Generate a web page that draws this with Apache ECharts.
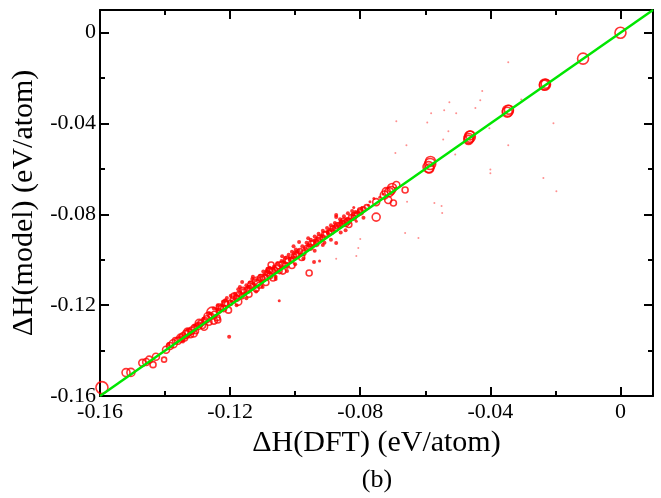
<!DOCTYPE html>
<html>
<head>
<meta charset="utf-8">
<script src="https://cdn.jsdelivr.net/npm/echarts@6/dist/echarts.min.js"></script>
<style>html,body{margin:0;padding:0;background:#fff}#c{width:661px;height:498px}</style>
</head>
<body>
<div id="c"></div>
<script>
// ---- data (x = ΔH(DFT), y = ΔH(model), s = marker diameter) ----
const xTickLabels = [-0.16, -0.12, -0.08, -0.04, 0];
const yTickLabels = [-0.16, -0.12, -0.08, -0.04, 0];
const parityLine = [[-0.16, -0.16], [0.01, 0.01]];

const openCircles = [
  [0,0,11],[-0.0115,-0.0114,11],
  [-0.0232,-0.0228,11],[-0.0234,-0.0231,10],[-0.0230,-0.0225,9],
  [-0.0346,-0.0344,11],[-0.0348,-0.0350,10],[-0.0343,-0.0339,9],
  [-0.0463,-0.0458,11],[-0.0466,-0.0466,10],[-0.0462,-0.0452,9],[-0.0467,-0.0472,9],
  [-0.0585,-0.0578,11],[-0.0590,-0.0592,11],[-0.0584,-0.0567,10],[-0.0588,-0.0598,9],
  [-0.0751,-0.0746,7],[-0.0751,-0.0812,8],[-0.0726,-0.0715,8],[-0.0714,-0.0737,7],
  [-0.0711,-0.0702,9],[-0.0702,-0.0684,9],[-0.0698,-0.0750,6],[-0.0689,-0.0671,7],
  [-0.0662,-0.0693,6],[-0.0720,-0.0700,8],[-0.0705,-0.0695,8],
  [-0.1594,-0.1563,12],[-0.1520,-0.1497,8],[-0.1505,-0.1496,8],[-0.1470,-0.1454,7],
  [-0.1458,-0.1450,7],[-0.1449,-0.1440,7],[-0.1437,-0.1462,6],[-0.1428,-0.1427,7],
  [-0.1403,-0.1440,5],[-0.1397,-0.1396,7],[-0.1385,-0.1380,7],[-0.1375,-0.1370,8],
  [-0.1368,-0.1356,6],[-0.1360,-0.1357,7],[-0.1352,-0.1345,8],[-0.1345,-0.1337,7],
  [-0.1340,-0.1345,6],[-0.1335,-0.1328,8],[-0.1328,-0.1320,7],[-0.1322,-0.1330,6],
  [-0.1318,-0.1312,7],[-0.1310,-0.1300,6],[-0.1305,-0.1315,5],[-0.1298,-0.1292,7],
  [-0.1290,-0.1280,6],[-0.1285,-0.1290,6],[-0.1278,-0.1268,6],[-0.1272,-0.1262,7],
  [-0.1265,-0.1275,6],[-0.1258,-0.1250,6],[-0.1255,-0.1233,11],[-0.1248,-0.1240,6],
  [-0.1240,-0.1255,6],[-0.1235,-0.1225,5],[-0.1228,-0.1212,5],[-0.1220,-0.1215,6],
  [-0.1210,-0.1195,5],[-0.1200,-0.1190,5],[-0.1192,-0.1175,5],[-0.1180,-0.1170,6],
  [-0.1172,-0.1150,5],[-0.1165,-0.1162,5],[-0.1158,-0.1140,5],[-0.1148,-0.1135,6],
  [-0.1140,-0.1125,5],[-0.1130,-0.1118,6],[-0.1117,-0.1098,10],[-0.1110,-0.1112,6],
  [-0.1100,-0.1085,5],[-0.1092,-0.1078,6],[-0.1085,-0.1060,5],[-0.1078,-0.1070,6],
  [-0.1074,-0.1023,6],[-0.1070,-0.1050,6],[-0.1062,-0.1045,5],[-0.1055,-0.1038,6],
  [-0.1048,-0.1050,5],[-0.1040,-0.1020,6],[-0.1030,-0.1022,5],[-0.1022,-0.1005,6],
  [-0.1012,-0.1000,5],[-0.1004,-0.0985,5],[-0.0995,-0.0980,6],[-0.0985,-0.0962,5],
  [-0.0975,-0.0970,5],[-0.0965,-0.0948,5],[-0.0955,-0.0945,6],[-0.0945,-0.0925,5],
  [-0.0935,-0.0930,5],[-0.0925,-0.0905,6],[-0.0915,-0.0902,5],[-0.0905,-0.0888,6],
  [-0.0895,-0.0880,5],[-0.0885,-0.0862,5],[-0.0875,-0.0860,6],[-0.0865,-0.0848,5],
  [-0.0855,-0.0840,6],[-0.0845,-0.0838,7],[-0.0838,-0.0830,6],[-0.0828,-0.0812,5],
  [-0.0820,-0.0815,5],[-0.0810,-0.0800,5],[-0.0800,-0.0782,5],[-0.0790,-0.0778,5],
  [-0.0780,-0.0768,5],
  [-0.1330,-0.1318,8],[-0.1312,-0.1325,7],[-0.1295,-0.1280,8],[-0.1280,-0.1295,7],
  [-0.1268,-0.1250,8],[-0.1250,-0.1268,7],[-0.1238,-0.1265,6],[-0.1232,-0.1210,7],
  [-0.1215,-0.1190,6],[-0.1205,-0.1222,6],[-0.1188,-0.1160,6],[-0.1175,-0.1185,7],
  [-0.1160,-0.1135,6],[-0.1142,-0.1152,6],[-0.1135,-0.1110,7],[-0.1120,-0.1128,6],
  [-0.1105,-0.1080,7],[-0.1090,-0.1100,6],[-0.1080,-0.1048,6],[-0.1068,-0.1080,6],
  [-0.1050,-0.1025,7],[-0.1038,-0.1050,6],[-0.1025,-0.1000,7],[-0.1010,-0.1025,6],
  [-0.0998,-0.0975,6],[-0.0980,-0.0990,6],[-0.0957,-0.1058,6],[-0.0950,-0.0930,6],
  [-0.0930,-0.0915,6],[-0.0910,-0.0890,6],[-0.0890,-0.0875,6],[-0.0870,-0.0850,6],
  [-0.0850,-0.0830,6],[-0.0835,-0.0845,6],[-0.0818,-0.0805,6],[-0.0800,-0.0790,6]
];

const filledDots = [
  [-0.1390,-0.1372,4],[-0.1330,-0.1310,4],[-0.1300,-0.1285,4],[-0.1282,-0.1260,4],
  [-0.1260,-0.1238,4],[-0.1240,-0.1218,4],[-0.1225,-0.1200,4],[-0.1203,-0.1339,4],
  [-0.1195,-0.1185,4],[-0.1185,-0.1160,4],[-0.1170,-0.1145,4],[-0.1155,-0.1150,4],
  [-0.1145,-0.1120,4],[-0.1128,-0.1105,4],[-0.1115,-0.1088,4],[-0.1105,-0.1095,4],
  [-0.1095,-0.1065,4],[-0.1080,-0.1055,4],[-0.1068,-0.1040,4],[-0.1060,-0.1075,4],
  [-0.1049,-0.1181,3],[-0.1045,-0.1028,4],[-0.1035,-0.1010,4],[-0.1025,-0.1032,4],
  [-0.1018,-0.0995,4],[-0.1008,-0.0990,4],[-0.0998,-0.0970,4],[-0.0990,-0.0960,4],
  [-0.0980,-0.0978,4],[-0.0970,-0.0950,4],[-0.0960,-0.0935,4],[-0.0950,-0.0940,4],
  [-0.0940,-0.0915,4],[-0.0930,-0.0910,4],[-0.0920,-0.0895,4],[-0.0910,-0.0925,4],
  [-0.0900,-0.0878,4],[-0.0890,-0.0870,4],[-0.0880,-0.0855,4],[-0.0874,-0.0812,4],
  [-0.0868,-0.0850,4],[-0.0860,-0.0832,4],[-0.0850,-0.0835,4],[-0.0840,-0.0820,4],
  [-0.0830,-0.0825,4],[-0.0822,-0.0800,4],[-0.0812,-0.0830,3],[-0.0805,-0.0790,4],
  [-0.0795,-0.0770,3],[-0.0775,-0.0760,3],[-0.0740,-0.0725,3],[-0.0730,-0.0710,3],
  [-0.0690,-0.0685,3],
  [-0.1250,-0.1215,4],[-0.1238,-0.1200,4],[-0.1222,-0.1185,4],[-0.1210,-0.1168,4],
  [-0.1198,-0.1158,4],[-0.1185,-0.1150,4],[-0.1175,-0.1130,4],[-0.1163,-0.1098,4],
  [-0.1150,-0.1112,4],[-0.1140,-0.1100,4],[-0.1132,-0.1085,4],[-0.1122,-0.1090,4],
  [-0.1108,-0.1070,4],[-0.1098,-0.1052,4],[-0.1088,-0.1050,4],[-0.1078,-0.1035,4],
  [-0.1065,-0.1030,4],[-0.1055,-0.1015,4],[-0.1042,-0.1005,4],[-0.1030,-0.0992,4],
  [-0.1020,-0.0978,4],[-0.1010,-0.0965,4],[-0.0998,-0.0955,4],[-0.0988,-0.0922,4],
  [-0.0978,-0.0940,4],[-0.0965,-0.0925,4],[-0.0952,-0.0912,4],[-0.0940,-0.0898,4],
  [-0.0928,-0.0885,4],[-0.0915,-0.0872,4],[-0.0902,-0.0860,4],[-0.0890,-0.0848,4],
  [-0.0878,-0.0838,4],[-0.0862,-0.0822,4],[-0.0850,-0.0808,4],[-0.0838,-0.0795,4],
  [-0.0825,-0.0785,4],[-0.0815,-0.0790,4],
  [-0.1180,-0.1200,4],[-0.1120,-0.1140,4],[-0.1060,-0.1085,4],[-0.1000,-0.1020,4],
  [-0.0940,-0.0960,4],[-0.0890,-0.0912,4],[-0.0845,-0.0870,4],[-0.0790,-0.0815,4],
  [-0.0874,-0.0803,4],[-0.0874,-0.0926,4],[-0.0942,-0.1010,4],[-0.0925,-0.1005,3],
  [-0.0960,-0.0905,4],[-0.1005,-0.0940,4],[-0.1040,-0.0985,4],[-0.1085,-0.1040,4],
  [-0.1130,-0.1075,4],[-0.1170,-0.1120,4],[-0.1215,-0.1178,4],[-0.1265,-0.1235,4],
  [-0.1310,-0.1290,4],[-0.1355,-0.1340,4],[-0.1345,-0.1360,4],[-0.1150,-0.1170,4],
  [-0.1100,-0.1120,4],[-0.1025,-0.1050,4],[-0.0975,-0.0995,4],[-0.0915,-0.0935,4],
  [-0.0860,-0.0880,4],[-0.0820,-0.0770,3],[-0.0770,-0.0745,3],[-0.0758,-0.0730,3]
];

const faintDots = [
  [-0.0345,-0.0130],[-0.0425,-0.0257],[-0.0431,-0.0298],[-0.0526,-0.0306],
  [-0.0446,-0.0332],[-0.0542,-0.0342],[-0.0505,-0.0355],[-0.0582,-0.0355],
  [-0.0594,-0.0395],[-0.0689,-0.0390],[-0.0529,-0.0434],[-0.0545,-0.0470],
  [-0.0658,-0.0496],[-0.0508,-0.0536],[-0.0345,-0.0496],[-0.0206,-0.0399],
  [-0.0305,-0.0294],[-0.0403,-0.0421],[-0.0400,-0.0602],[-0.0400,-0.0619],
  [-0.0237,-0.0640],[-0.0197,-0.0698],[-0.0692,-0.0530],[-0.0572,-0.0750],
  [-0.0550,-0.0763],[-0.0548,-0.0794],[-0.0662,-0.0882],[-0.0621,-0.0904],
  [-0.0656,-0.0745],[-0.0800,-0.0908],[-0.0806,-0.0948],[-0.0874,-0.0996],
  [-0.0812,-0.0983]
];

// ---- chart ----
const FONT = '"Liberation Serif", "DejaVu Serif", serif';
const chart = echarts.init(document.getElementById('c'), null, {renderer: 'canvas'});
const fmt = (list) => (v) => {
  const hit = list.find(t => Math.abs(t - v) < 1e-9);
  if (hit === undefined) return '';
  return hit === 0 ? '0' : hit.toFixed(2);
};
function axisPair(dim, pos, showLabel) {
  const isX = dim === 'x';
  const main = {
    type: 'value', position: pos, min: -0.16, max: 0.01, interval: 0.04,
    axisLine: {show: true, onZero: false, lineStyle: {color: '#000', width: 2}},
    axisTick: {show: true, inside: true, length: 9, lineStyle: {color: '#000', width: 2}},
    splitLine: {show: false},
    axisLabel: {show: showLabel, showMaxLabel: false, color: '#000', fontFamily: FONT, fontSize: 22,
      margin: isX ? 5 : 4, formatter: fmt(isX ? xTickLabels : yTickLabels),
      align: isX ? 'center' : 'right'}
  };
  const minor = {
    type: 'value', position: pos, min: -0.16, max: 0.01, interval: 0.02,
    axisLine: {show: false, onZero: false},
    axisTick: {show: true, inside: true, length: 5, lineStyle: {color: '#000', width: 2}},
    splitLine: {show: false}, axisLabel: {show: false}
  };
  return [main, minor];
}
const xAxes = axisPair('x', 'bottom', true).concat(axisPair('x', 'top', false));
const yAxes = axisPair('y', 'left', true).concat(axisPair('y', 'right', false));
Object.assign(xAxes[0], {name: 'ΔH(DFT) (eV/atom)', nameLocation: 'middle', nameGap: 29,
  nameTextStyle: {color: '#000', fontFamily: FONT, fontSize: 30}});
Object.assign(yAxes[0], {name: 'ΔH(model) (eV/atom)', nameLocation: 'middle', nameGap: 56,
  nameTextStyle: {color: '#000', fontFamily: FONT, fontSize: 30}});

chart.setOption({
  animation: false,
  backgroundColor: '#fff',
  grid: {left: 100, right: 8, top: 10, bottom: 102, containLabel: false},
  xAxis: xAxes,
  yAxis: yAxes,
  graphic: [{type: 'text', x: 377, y: 480,
    style: {text: '(b)', font: '26px ' + FONT, fill: '#000', align: 'center', verticalAlign: 'middle'}}],
  series: [
    {type: 'scatter', data: faintDots, symbolSize: 2, silent: true,
      itemStyle: {color: 'rgba(255,0,0,0.55)'}, z: 2},
    {type: 'scatter', data: filledDots, symbolSize: v => v[2], silent: true,
      itemStyle: {color: '#ff0000'}, z: 3},
    {type: 'scatter', data: openCircles, symbolSize: v => v[2], silent: true,
      itemStyle: {color: 'rgba(0,0,0,0)', borderColor: '#ff0000', borderWidth: 1.6}, z: 4},
    {type: 'line', data: parityLine, showSymbol: false, silent: true,
      lineStyle: {color: '#00e600', width: 2.5}, z: 5}
  ]
});
</script>
</body>
</html>
